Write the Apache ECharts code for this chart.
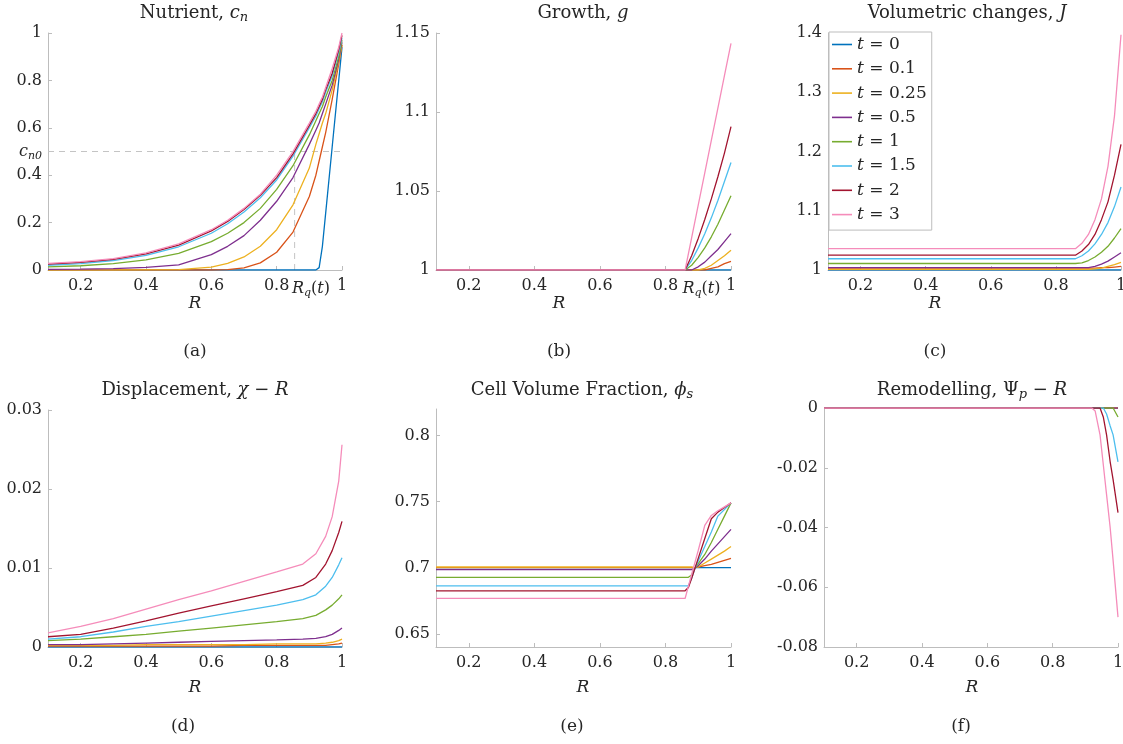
<!DOCTYPE html>
<html>
<head>
<meta charset="utf-8">
<title>Tumour growth profiles</title>
<script src="https://cdn.jsdelivr.net/npm/echarts@6.0.0/dist/echarts.min.js"></script>
<style>
  html, body { margin: 0; padding: 0; background: #fff; }
  #main { width: 1123px; height: 744px; }
</style>
</head>
<body>
<div id="main"></div>
<script>
// one curve per time, same order in every panel
const times = ['t = 0', 't = 0.1', 't = 0.25', 't = 0.5', 't = 1', 't = 1.5', 't = 2', 't = 3'];
const colors = ['#0072BD', '#D95319', '#EDB120', '#7E2F8E', '#77AC30', '#4DBEEE', '#A2142F', '#F58CBA'];
const xTicks = [0.2, 0.4, 0.6, 0.8, 1];

// (a) nutrient c_n
const rA = [0.1, 0.2, 0.3, 0.4, 0.5, 0.6, 0.65, 0.7, 0.75, 0.8, 0.85, 0.9, 0.92, 0.93, 0.94, 0.95, 0.97, 0.99, 1];
const nutrient = [
  [0, 0, 0, 0, 0, 0, 0, 0, 0, 0, 0, 0, 0, 0.01, 0.1, 0.24, 0.52, 0.8, 0.94],
  [0, 0, 0, 0, 0, 0, 0.002, 0.009, 0.03, 0.075, 0.16, 0.31, 0.4, 0.46, 0.52, 0.58, 0.72, 0.87, 0.95],
  [0, 0, 0, 0.0005, 0.002, 0.012, 0.028, 0.055, 0.1, 0.17, 0.275, 0.43, 0.53, 0.575, 0.62, 0.66, 0.76, 0.88, 0.95],
  [0.003, 0.004, 0.006, 0.011, 0.022, 0.065, 0.1, 0.145, 0.21, 0.29, 0.39, 0.53, 0.59, 0.62, 0.66, 0.7, 0.78, 0.89, 0.96],
  [0.013, 0.018, 0.027, 0.043, 0.07, 0.12, 0.155, 0.2, 0.26, 0.34, 0.44, 0.57, 0.63, 0.66, 0.69, 0.73, 0.8, 0.9, 0.97],
  [0.02, 0.027, 0.04, 0.062, 0.098, 0.155, 0.195, 0.245, 0.305, 0.38, 0.48, 0.6, 0.65, 0.68, 0.71, 0.75, 0.82, 0.92, 0.98],
  [0.025, 0.032, 0.045, 0.068, 0.105, 0.165, 0.205, 0.255, 0.315, 0.39, 0.49, 0.61, 0.66, 0.69, 0.72, 0.76, 0.83, 0.93, 0.99],
  [0.028, 0.035, 0.048, 0.072, 0.11, 0.17, 0.21, 0.26, 0.32, 0.4, 0.5, 0.62, 0.67, 0.7, 0.73, 0.77, 0.85, 0.94, 1]
];
const cn0 = 0.5;
const rqA = 0.855;          // dashed guide
const rqLabelA = 0.905;     // where the R_q(t) tick label sits
const rqLabelB = 0.91;

// (b) growth g
const rB = [0.1, 0.86, 0.88, 0.9, 0.92, 0.94, 0.96, 0.98, 1];
const growth = [
  [1, 1, 1, 1, 1, 1, 1, 1, 1],
  [1, 1, 1, 1, 1, 1.001, 1.002, 1.004, 1.0055],
  [1, 1, 1, 1, 1.001, 1.003, 1.006, 1.009, 1.0125],
  [1, 1, 1, 1.002, 1.005, 1.009, 1.013, 1.018, 1.023],
  [1, 1, 1.003, 1.008, 1.014, 1.021, 1.029, 1.038, 1.047],
  [1, 1, 1.006, 1.014, 1.023, 1.033, 1.044, 1.056, 1.068],
  [1, 1, 1.009, 1.02, 1.032, 1.045, 1.059, 1.074, 1.0907],
  [1, 1, 1.0205, 1.041, 1.0615, 1.082, 1.1025, 1.123, 1.1435]
];

// (c) volumetric changes J
const rC = [0.1, 0.86, 0.88, 0.9, 0.92, 0.94, 0.96, 0.98, 1];
const volume = [
  [1, 1, 1, 1, 1, 1, 1, 1, 1],
  [1.003, 1.003, 1.003, 1.003, 1.003, 1.004, 1.004, 1.005, 1.006],
  [1.001, 1.001, 1.001, 1.001, 1.002, 1.003, 1.006, 1.009, 1.013],
  [1.004, 1.004, 1.004, 1.004, 1.006, 1.01, 1.015, 1.022, 1.029],
  [1.011, 1.011, 1.012, 1.016, 1.022, 1.03, 1.04, 1.054, 1.07],
  [1.019, 1.019, 1.024, 1.032, 1.044, 1.06, 1.08, 1.107, 1.14],
  [1.025, 1.025, 1.032, 1.043, 1.06, 1.085, 1.115, 1.16, 1.212],
  [1.036, 1.036, 1.045, 1.06, 1.085, 1.12, 1.175, 1.26, 1.397]
];

// (d) displacement chi - R
const rD = [0.1, 0.2, 0.3, 0.4, 0.5, 0.6, 0.7, 0.8, 0.88, 0.92, 0.95, 0.97, 0.99, 1];
const displacement = [
  [0, 0, 0, 0, 0, 0, 0, 0, 0, 0, 0, 0, 0, 0],
  [0.0001, 0.0001, 0.0001, 0.0001, 0.0001, 0.0001, 0.0002, 0.0002, 0.0002, 0.0002, 0.0002, 0.0003, 0.0004, 0.0005],
  [0.0002, 0.0002, 0.0002, 0.0003, 0.0003, 0.0003, 0.0003, 0.0004, 0.0004, 0.0004, 0.0005, 0.0006, 0.0008, 0.001],
  [0.0003, 0.0003, 0.0004, 0.0005, 0.0006, 0.0007, 0.0008, 0.0009, 0.001, 0.0011, 0.0013, 0.0016, 0.0021, 0.0024],
  [0.0008, 0.001, 0.0013, 0.0016, 0.002, 0.0024, 0.0028, 0.0032, 0.0036, 0.004, 0.0047, 0.0053, 0.0061, 0.0066],
  [0.001, 0.0013, 0.0019, 0.0026, 0.0032, 0.0039, 0.0046, 0.0053, 0.006, 0.0066, 0.0077, 0.0088, 0.0104, 0.0113],
  [0.0013, 0.0016, 0.0024, 0.0033, 0.0043, 0.0052, 0.0061, 0.007, 0.0078, 0.0088, 0.0105, 0.0122, 0.0145, 0.0159],
  [0.0018, 0.0026, 0.0036, 0.0048, 0.006, 0.0071, 0.0083, 0.0095, 0.0105, 0.0118, 0.014, 0.0165, 0.021, 0.0256]
];

// (e) cell volume fraction phi_s
const rE = [0.1, 0.86, 0.87, 0.88, 0.89, 0.9, 0.92, 0.94, 0.96, 0.98, 1];
const cellFraction = [
  [0.7, 0.7, 0.7, 0.7, 0.7, 0.7, 0.7, 0.7, 0.7, 0.7, 0.7],
  [0.7, 0.7, 0.7, 0.7, 0.7, 0.7005, 0.7015, 0.7025, 0.704, 0.7055, 0.707],
  [0.7005, 0.7005, 0.7005, 0.7005, 0.7, 0.7005, 0.7035, 0.7065, 0.7095, 0.7125, 0.716],
  [0.6985, 0.6985, 0.6985, 0.6985, 0.6995, 0.7015, 0.7065, 0.7125, 0.718, 0.7235, 0.729],
  [0.6927, 0.6927, 0.6927, 0.6945, 0.6995, 0.703, 0.71, 0.719, 0.729, 0.739, 0.749],
  [0.6863, 0.6863, 0.6863, 0.692, 0.6995, 0.705, 0.716, 0.727, 0.739, 0.744, 0.749],
  [0.6825, 0.6825, 0.685, 0.692, 0.6995, 0.707, 0.722, 0.737, 0.742, 0.7455, 0.749],
  [0.6767, 0.6767, 0.686, 0.695, 0.704, 0.713, 0.732, 0.7395, 0.743, 0.746, 0.749]
];

// (f) remodelling Psi_p - R
const rF = [0.1, 0.92, 0.93, 0.945, 0.955, 0.96, 0.965, 0.976, 0.985, 1];
const remodelling = [
  [0, 0, 0, 0, 0, 0, 0, 0, 0, 0],
  [0, 0, 0, 0, 0, 0, 0, 0, 0, 0],
  [0, 0, 0, 0, 0, 0, 0, 0, 0, 0],
  [0, 0, 0, 0, 0, 0, 0, 0, 0, 0],
  [0, 0, 0, 0, 0, 0, 0, 0, 0, -0.003],
  [0, 0, 0, 0, 0, -0.0005, -0.002, -0.006, -0.009, -0.018],
  [0, 0, 0, 0, -0.003, -0.006, -0.009, -0.018, -0.024, -0.035],
  [0, 0, -0.001, -0.009, -0.019, -0.024, -0.029, -0.04, -0.051, -0.07]
];

const serif = '"DejaVu Serif", "Liberation Serif", serif';
const axisGrey = '#bdbdbd';
const textCol = '#262626';
function mathRich(size) {
  return {
    i: { fontFamily: serif, fontSize: size, fontStyle: 'italic', color: textCol, lineHeight: size + 5 },
    s: { fontFamily: serif, fontSize: Math.round(size * 0.7), fontStyle: 'italic', color: textCol, lineHeight: Math.round(size * 0.7), verticalAlign: 'bottom' },
    r: { fontFamily: serif, fontSize: size, color: textCol, lineHeight: size + 5 }
  };
}
const tickSize = 16;
const titleSize = 18;

const grids = [
  { left: 48, top: 33, width: 294, height: 237 },
  { left: 436, top: 33, width: 295, height: 237 },
  { left: 828, top: 33, width: 293, height: 237 },
  { left: 48, top: 410, width: 294, height: 237 },
  { left: 436, top: 409, width: 295, height: 238 },
  { left: 824, top: 408, width: 294, height: 239 }
].map(g => Object.assign({ containLabel: false, outerBoundsMode: 'none' }, g));

function xAxisFor(i, labels, formatter) {
  return {
    type: 'value', gridIndex: i, min: 0.1, max: 1,
    axisLine: { onZero: false, lineStyle: { color: axisGrey } },
    axisTick: { inside: true, length: 4, customValues: xTicks, lineStyle: { color: axisGrey } },
    axisLabel: {
      customValues: labels || xTicks, margin: 8,
      fontFamily: serif, fontSize: tickSize, color: textCol,
      formatter: formatter || (v => String(v)), rich: mathRich(tickSize)
    },
    splitLine: { show: false }
  };
}

function yAxisFor(i, min, max, ticks, formatter) {
  return {
    type: 'value', gridIndex: i, min: min, max: max,
    axisLine: { show: true, onZero: false, lineStyle: { color: axisGrey } },
    axisTick: { show: true, inside: true, length: 4, customValues: ticks, lineStyle: { color: axisGrey } },
    axisLabel: {
      customValues: ticks, margin: 6,
      fontFamily: serif, fontSize: tickSize, color: textCol,
      formatter: formatter || (v => String(v)), rich: mathRich(tickSize)
    },
    splitLine: { show: false }
  };
}

const rqFormatter = lab => (v => v === lab ? '{i|R}{s|q}{r|(}{i|t}{r|)}' : String(v));

const xAxes = [
  xAxisFor(0, [0.2, 0.4, 0.6, 0.8, rqLabelA, 1], rqFormatter(rqLabelA)),
  xAxisFor(1, [0.2, 0.4, 0.6, 0.8, rqLabelB, 1], rqFormatter(rqLabelB)),
  xAxisFor(2), xAxisFor(3), xAxisFor(4), xAxisFor(5)
];

const yAxes = [
  yAxisFor(0, 0, 1, [0, 0.2, 0.4, 0.5, 0.6, 0.8, 1], v => v === cn0 ? '{i|c}{s|n0}' : String(v)),
  yAxisFor(1, 1, 1.15, [1, 1.05, 1.1, 1.15]),
  yAxisFor(2, 1, 1.4, [1, 1.1, 1.2, 1.3, 1.4]),
  yAxisFor(3, 0, 0.03, [0, 0.01, 0.02, 0.03]),
  yAxisFor(4, 0.64, 0.82, [0.65, 0.7, 0.75, 0.8]),
  yAxisFor(5, -0.08, 0, [-0.08, -0.06, -0.04, -0.02, 0])
];

function curves(idx, r, vals) {
  return vals.map((v, k) => ({
    name: times[k], type: 'line', xAxisIndex: idx, yAxisIndex: idx,
    data: r.map((x, j) => [x, v[j]]),
    showSymbol: false, symbol: 'none', smooth: false,
    lineStyle: { width: 1.3, color: colors[k] }, itemStyle: { color: colors[k] },
    emphasis: { disabled: true }, z: 3
  }));
}

function guide(data) {
  return {
    type: 'line', xAxisIndex: 0, yAxisIndex: 0, data: data,
    showSymbol: false, symbol: 'none', silent: true, z: 2,
    lineStyle: { width: 1, type: [6, 5], color: '#c4c4c4' }
  };
}

const series = [
  guide([[0.1, cn0], [1, cn0]]),
  guide([[rqA, 0], [rqA, cn0]])
].concat(
  curves(0, rA, nutrient),
  curves(1, rB, growth),
  curves(2, rC, volume),
  curves(3, rD, displacement),
  curves(4, rE, cellFraction),
  curves(5, rF, remodelling)
);

function label(x, y, text, size, italic) {
  return {
    type: 'text', x: x, y: y, silent: true,
    style: {
      text: text, rich: mathRich(size), fill: textCol,
      fontFamily: serif, fontSize: size, fontStyle: italic ? 'italic' : 'normal',
      align: 'center', verticalAlign: 'middle', textAlign: 'center', textVerticalAlign: 'middle'
    }
  };
}

const graphics = [
  label(194, 13, 'Nutrient, {i|c}{s|n}', titleSize),
  label(583, 13, 'Growth, {i|g}', titleSize),
  label(967, 13, 'Volumetric changes, {i|J}', titleSize),
  label(195, 390, 'Displacement, {i|χ} − {i|R}', titleSize),
  label(582, 390, 'Cell Volume Fraction, {i|ϕ}{s|s}', titleSize),
  label(972, 390, 'Remodelling, Ψ{s|p} − {i|R}', titleSize),
  label(195, 304, 'R', 17, true),
  label(559, 304, 'R', 17, true),
  label(935, 304, 'R', 17, true),
  label(195, 688, 'R', 17, true),
  label(583, 688, 'R', 17, true),
  label(972, 688, 'R', 17, true),
  label(195, 352, '(a)', 17),
  label(559, 352, '(b)', 17),
  label(935, 352, '(c)', 17),
  label(183, 727, '(d)', 17),
  label(572, 727, '(e)', 17),
  label(961, 727, '(f)', 17)
];

const chart = echarts.init(document.getElementById('main'), null, { renderer: 'canvas' });
chart.setOption({
  animation: false,
  backgroundColor: '#fff',
  grid: grids,
  xAxis: xAxes,
  yAxis: yAxes,
  legend: {
    data: times, orient: 'vertical', left: 829, top: 32,
    icon: 'rect', itemWidth: 20, itemHeight: 1.6, itemGap: 7.3,
    padding: [4, 5, 7, 3],
    selectedMode: false, backgroundColor: '#fff',
    borderColor: axisGrey, borderWidth: 1, borderRadius: 0,
    textStyle: {
      fontFamily: serif, fontSize: 17, color: textCol, lineHeight: 14,
      rich: { i: { fontFamily: serif, fontSize: 17, fontStyle: 'italic', color: textCol, lineHeight: 14 } }
    },
    formatter: n => '{i|t}' + n.slice(1)
  },
  series: series,
  graphic: graphics
});
</script>
</body>
</html>
